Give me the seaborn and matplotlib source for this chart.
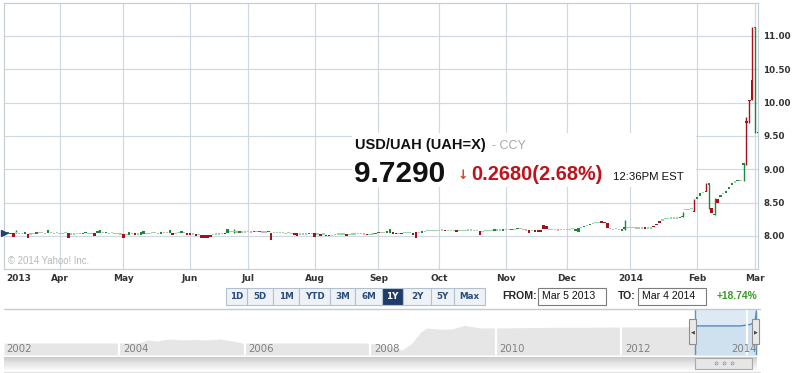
import numpy as np
import pandas as pd
import matplotlib
matplotlib.use('Agg')
import matplotlib.pyplot as plt
import seaborn as sns
from matplotlib.patches import Rectangle
from matplotlib.lines import Line2D

# ---------------- data ----------------
open_mar13  = [8.04, 8.03, 8.03, 8.04, 8.05, 8.04, 8.04, 8.03, 8.03, 8.03, 8.04, 8.03, 8.05, 8.05, 8.04, 8.04, 8.05, 8.04, 8.05]
close_mar13 = [8.04, 8.06, 8.05, 7.98, 8.05, 8.04, 8.04, 8.06, 7.97, 8.03, 8.04, 8.06, 8.05, 8.05, 8.04, 8.09, 8.05, 8.04, 8.05]
open_apr13  = [8.04, 8.04, 8.05, 8.04, 8.03, 8.03, 8.04, 8.04, 8.03, 8.04, 8.04, 8.04, 8.04, 8.04, 8.05, 8.05, 8.04, 8.04, 8.05, 8.04, 8.04, 8.03]
close_apr13 = [8.04, 8.04, 8.05, 7.97, 8.03, 8.03, 8.04, 8.04, 8.05, 8.05, 8.04, 8.04, 8.00, 8.08, 8.09, 8.05, 8.06, 8.04, 8.05, 8.04, 8.04, 8.03]
open_may13  = [8.03, 8.02, 8.01, 8.04, 8.04, 8.03, 8.02, 8.03, 8.04, 8.04, 8.05, 8.05, 8.04, 8.03, 8.05, 8.05, 8.04, 8.05, 8.04, 8.05, 8.04, 8.05, 8.04]
close_may13 = [7.97, 8.02, 8.06, 8.04, 8.01, 8.03, 8.06, 8.08, 8.04, 8.04, 8.05, 8.05, 8.04, 8.06, 8.05, 8.05, 8.09, 8.01, 8.04, 8.05, 8.08, 8.05, 8.01]
open_jun13  = [8.04, 8.03, 8.03, 8.02, 8.01, 8.01, 8.01, 8.01, 8.02, 8.03, 8.03, 8.04, 8.05, 8.05, 8.07, 8.07, 8.06, 8.05, 8.06, 8.06]
close_jun13 = [8.01, 8.03, 8.00, 8.02, 7.97, 7.97, 7.97, 7.98, 8.02, 8.03, 8.03, 8.04, 8.04, 8.10, 8.07, 8.07, 8.06, 8.07, 8.06, 8.06]
open_jul13  = [8.07, 8.06, 8.06, 8.07, 8.06, 8.06, 8.06, 8.06, 8.05, 8.05, 8.05, 8.05, 8.05, 8.04, 8.05, 8.04, 8.04, 8.04, 8.03, 8.03, 8.03, 8.03, 8.04]
close_jul13 = [8.07, 8.06, 8.08, 8.07, 8.08, 8.06, 8.06, 8.08, 7.94, 8.05, 8.05, 8.05, 8.05, 8.04, 8.05, 8.04, 8.01, 8.00, 8.03, 8.03, 8.03, 8.04, 8.04]
open_aug13  = [8.04, 8.03, 8.03, 8.03, 8.02, 8.02, 8.01, 8.02, 8.03, 8.03, 8.03, 8.03, 8.02, 8.03, 8.03, 8.04, 8.04, 8.03, 8.03, 8.02, 8.03, 8.03]
close_aug13 = [7.99, 8.03, 8.00, 8.03, 8.00, 8.00, 8.01, 8.02, 8.03, 8.03, 8.03, 8.00, 8.02, 8.03, 8.03, 8.04, 8.04, 8.03, 8.01, 8.02, 8.03, 8.05]
open_sep13  = [8.04, 8.05, 8.05, 8.05, 8.05, 8.06, 8.05, 8.04, 8.05, 8.05, 8.05, 8.05, 8.05, 8.06, 8.05, 8.05, 8.07, 8.08, 8.08, 8.08, 8.08]
close_sep13 = [8.06, 8.05, 8.05, 8.07, 8.10, 8.03, 8.03, 8.04, 8.03, 8.05, 8.05, 8.05, 8.02, 7.97, 8.05, 8.08, 8.07, 8.08, 8.08, 8.08, 8.08]
open_oct13  = [8.08, 8.09, 8.09, 8.08, 8.08, 8.08, 8.09, 8.08, 8.08, 8.08, 8.09, 8.09, 8.08, 8.08, 8.07, 8.07, 8.08, 8.08, 8.08, 8.08, 8.09, 8.09, 8.08]
close_oct13 = [8.08, 8.09, 8.07, 8.08, 8.08, 8.08, 8.06, 8.08, 8.08, 8.08, 8.09, 8.09, 8.08, 8.08, 8.02, 8.07, 8.08, 8.08, 8.08, 8.09, 8.09, 8.09, 8.10]
open_nov13  = [8.10, 8.10, 8.09, 8.10, 8.10, 8.11, 8.10, 8.09, 8.09, 8.08, 8.09, 8.09, 8.09, 8.16, 8.15, 8.10, 8.10, 8.10, 8.09, 8.10, 8.10]
close_nov13 = [8.10, 8.10, 8.11, 8.10, 8.12, 8.11, 8.10, 8.09, 8.05, 8.08, 8.06, 8.06, 8.06, 8.11, 8.11, 8.10, 8.10, 8.10, 8.09, 8.10, 8.10]
open_dec13  = [8.10, 8.10, 8.11, 8.07, 8.06, 8.13, 8.13, 8.16, 8.16, 8.19, 8.20, 8.20, 8.22, 8.21, 8.19, 8.11, 8.10, 8.11, 8.10, 8.07, 8.11, 8.13]
close_dec13 = [8.10, 8.10, 8.11, 8.10, 8.12, 8.13, 8.15, 8.16, 8.18, 8.19, 8.20, 8.20, 8.20, 8.19, 8.12, 8.11, 8.10, 8.11, 8.10, 8.10, 8.13, 8.13]
open_jan14  = [8.13, 8.13, 8.12, 8.12, 8.12, 8.13, 8.12, 8.12, 8.15, 8.18, 8.22, 8.24, 8.26, 8.26, 8.27, 8.27, 8.27, 8.27, 8.28, 8.40, 8.40, 8.41, 8.38]
close_jan14 = [8.13, 8.13, 8.12, 8.12, 8.12, 8.11, 8.12, 8.12, 8.13, 8.16, 8.20, 8.24, 8.26, 8.26, 8.27, 8.27, 8.27, 8.28, 8.29, 8.40, 8.40, 8.41, 8.37]
open_feb14  = [8.55, 8.60, 8.65, 8.68, 8.77, 8.42, 8.31, 8.55, 8.58, 8.64, 8.65, 8.70, 8.76, 8.81, 8.82, 8.83, 9.07, 9.72, 10.04, 10.33]
close_feb14 = [8.58, 8.64, 8.65, 8.67, 8.78, 8.35, 8.33, 8.50, 8.61, 8.64, 8.67, 8.73, 8.79, 8.81, 8.84, 8.83, 9.08, 9.70, 10.02, 10.04]
open_mar14  = [11.11, 9.56]
close_mar14 = [11.13, 9.54]

# days (trading-day number) that show a visible high/low wick
wick_day  = [4,    79,   214,  234,  238,  242,  243,  245,  255,  256,  257,   258,   259]
wick_high = [8.09, 8.10, 8.24, 8.36, 8.55, 8.79, 8.78, 8.57, 9.08, 9.78, 10.04, 11.13, 11.13]
wick_low  = [8.05, 8.05, 8.09, 8.28, 8.37, 8.67, 8.40, 8.31, 8.82, 9.06, 9.69,  10.04, 9.54]

prev_close = 8.045
y_ticks = [8.00, 8.50, 9.00, 9.50, 10.00, 10.50, 11.00]

# long history for the navigator (decimal year, level)
nav_year = [2002.16, 2004.30, 2004.45, 2004.60, 2004.80, 2005.00, 2005.20, 2005.40, 2005.60, 2005.80,
            2005.95, 2007.90, 2008.10, 2008.35, 2008.50, 2008.65, 2008.80, 2008.90, 2009.10, 2009.30,
            2009.50, 2009.75, 2010.00, 2010.50, 2011.00, 2011.50, 2012.00, 2012.50, 2013.00, 2013.17,
            2013.50, 2013.90, 2014.05, 2014.10, 2014.13, 2014.15, 2014.165]
nav_val  = [5.63, 5.63, 6.08, 5.93, 6.22, 6.08, 6.15, 6.08, 6.22, 5.93,
            5.63, 5.63, 5.49, 5.04, 4.60, 5.50, 7.26, 7.85, 7.66, 7.70,
            8.25, 7.85, 7.85, 7.90, 7.95, 7.95, 8.00, 8.00, 8.00, 8.15,
            8.15, 8.15, 8.35, 8.60, 9.00, 10.20, 10.50]
nav_sel_start = 2013.17
nav_years_marked = [2002, 2004, 2006, 2008, 2010, 2012, 2014]

range_buttons = ['1D', '5D', '1M', 'YTD', '3M', '6M', '1Y', '2Y', '5Y', 'Max']
selected_range = '1Y'
from_date, to_date = 'Mar 5 2013', 'Mar 4 2014'
period_change = '+18.74%'
title = 'USD/UAH (UAH=X)'
price_txt, change_txt, time_txt = '9.7290', '0.2680(2.68%)', '12:36PM EST'

# ---------------- figure ----------------
sns.set_style('white')
plt.rcParams['font.family'] = ['DejaVu Sans']

W, H = 799, 373
fig = plt.figure(figsize=(W / 100, H / 100), dpi=100)
fig.patch.set_facecolor('white')


def fb(x0, y0, x1, y1):
    return [x0 / W, 1 - y1 / H, (x1 - x0) / W, (y1 - y0) / H]


def fx(x):
    return x / W


def fy(y):
    return 1 - y / H


ARIAL = ['Liberation Sans', 'DejaVu Sans']
GRID = '#cfd8e1'

# ---------------- main candlestick chart ----------------
dates = pd.bdate_range('2013-03-05', '2014-03-04')
opens = np.array(open_mar13 + open_apr13 + open_may13 + open_jun13 + open_jul13 + open_aug13 + open_sep13
                 + open_oct13 + open_nov13 + open_dec13 + open_jan14 + open_feb14 + open_mar14)
closes = np.array(close_mar13 + close_apr13 + close_may13 + close_jun13 + close_jul13 + close_aug13 + close_sep13
                  + close_oct13 + close_nov13 + close_dec13 + close_jan14 + close_feb14 + close_mar14)
assert len(dates) == len(opens) == len(closes)
df = pd.DataFrame({'date': dates, 'open': opens, 'close': closes})
df['i'] = np.arange(len(df))

ax = fig.add_axes(fb(4, 3.3, 758, 269.3))
ax.set_xlim(-0.2, 260.0)
ax.set_ylim(7.5, 11.487)
ax.set_facecolor('white')

UP, DN = '#18893a', '#a3111c'
UP_L, DN_L = '#9dd3ab', '#e6a7ad'
prev = np.r_[prev_close, closes[:-1]]
col = np.where(closes > opens, UP, np.where(closes < opens, DN, np.where(closes >= prev, UP_L, DN_L)))
body_lo = np.minimum(opens, closes)
body_h = np.abs(closes - opens)
doji = body_h < 0.015
body_lo = np.where(doji, closes - 0.01, body_lo)
body_h = np.where(doji, 0.02, body_h)

wcol = [UP if closes[d] >= opens[d] else DN for d in wick_day]
ax.vlines(wick_day, wick_low, wick_high, colors=wcol, lw=1.0, zorder=2.9)
ax.bar(df['i'], body_h, bottom=body_lo, width=0.85, color=col, linewidth=0, zorder=3)

ax.plot([ax.get_xlim()[0]], [prev_close], marker='>', ms=4.5, color='#24406e', clip_on=False, zorder=4)

# axes, ticks, grid
ms = df.groupby([df['date'].dt.year, df['date'].dt.month])['i'].min()
tick_idx, tick_lab = [], []
for (yy, mm), i in ms.items():
    if i == 0:
        continue
    tick_idx.append(i)
    tick_lab.append(str(yy) if mm == 1 else pd.Timestamp(yy, mm, 1).strftime('%b'))
ax.set_xticks(tick_idx, tick_lab)
ax.yaxis.tick_right()
ax.set_yticks(y_ticks, [f'{v:.2f}' for v in y_ticks])
ax.tick_params(axis='x', length=0, pad=3.4, labelsize=6.5, labelcolor='#333333')
ax.tick_params(axis='y', length=0, pad=3.6, labelsize=6.3, labelcolor='#333333')
for lab in ax.get_xticklabels() + ax.get_yticklabels():
    lab.set_fontweight('bold')
ax.grid(True, color=GRID, lw=0.85)
ax.set_axisbelow(True)
for s in ax.spines.values():
    s.set_color('#c4ced8')
    s.set_linewidth(0.85)

fig.text(fx(18.5), fy(278.5), str(dates[0].year), ha='center', va='center', fontsize=6.5,
         fontweight='bold', color='#333333')
fig.text(fx(8), fy(264), '\u00a9 2014 Yahoo! Inc.', fontsize=6.9, color='#b8b8b8', family=ARIAL,
         va='baseline')

# ---------------- quote box ----------------
fig.add_artist(Rectangle((fx(352), fy(187)), fx(696) - fx(352), fy(133) - fy(187), transform=fig.transFigure,
                         facecolor='white', edgecolor='none', zorder=1))
fig.text(fx(355), fy(149.5), title, fontsize=10.5, fontweight='bold', family=ARIAL, va='baseline', color='#111111')
fig.text(fx(492), fy(149.5), '- CCY', fontsize=9, family=ARIAL, va='baseline', color='#a8a8a8')
fig.text(fx(354), fy(181.5), price_txt, fontsize=21.5, fontweight='bold', family=ARIAL, va='baseline',
         color='#111111')
fig.text(fx(462.5), fy(175.5), '\u2193', fontsize=9, fontweight='bold', ha='center', va='center',
         color='#cc4a1d')
fig.text(fx(471.5), fy(180.5), change_txt, fontsize=14.3, fontweight='bold', family=ARIAL, va='baseline',
         color='#c0121b')
fig.text(fx(613), fy(180.5), time_txt, fontsize=8.2, family=ARIAL, va='baseline', color='#111111')

# ---------------- range buttons / dates ----------------
btn_edges = [226, 247, 273, 299, 330, 355, 382, 403, 431, 454, 485]
for k, lab in enumerate(range_buttons):
    x0, x1 = btn_edges[k], btn_edges[k + 1]
    sel = lab == selected_range
    fig.add_artist(Rectangle((fx(x0), fy(304.5)), fx(x1) - fx(x0), fy(288) - fy(304.5),
                             transform=fig.transFigure, facecolor='#1d3c69' if sel else '#eef2f6',
                             edgecolor='#b3c1cf', lw=0.8, zorder=1))
    fig.text(fx((x0 + x1) / 2), fy(296.3), lab, ha='center', va='center', fontsize=6.3, fontweight='bold',
             color='white' if sel else '#2b4d7e')

fig.text(fx(502), fy(296.3), 'FROM:', fontsize=7.6, fontweight='bold', family=ARIAL, va='center')
fig.text(fx(618), fy(296.3), 'TO:', fontsize=7.6, fontweight='bold', family=ARIAL, va='center')
for (x0, x1), txt in zip([(538, 606), (638, 706)], [from_date, to_date]):
    fig.add_artist(Rectangle((fx(x0), fy(304.5)), fx(x1) - fx(x0), fy(287.5) - fy(304.5),
                             transform=fig.transFigure, facecolor='white', edgecolor='#7d7d7d', lw=0.8,
                             zorder=1))
    fig.text(fx(x0 + 3.5), fy(296.3), txt, fontsize=7.6, family=ARIAL, va='center', color='#111111')
fig.text(fx(717), fy(296.3), period_change, fontsize=7.4, fontweight='bold', family=ARIAL, va='center',
         color='#3a9a2a')

fig.add_artist(Line2D([fx(4), fx(760)], [fy(309.3), fy(309.3)], transform=fig.transFigure,
                      color='#c9c9c9', lw=1.0))

# ---------------- navigator ----------------
axn = fig.add_axes(fb(4, 310, 757, 355))
axn.set_xlim(2002.16, 2014.16)
axn.set_ylim(3.86, 10.5)
axn.fill_between(nav_year, nav_val, 3.86, color='#e6e6e6', lw=0, zorder=1)
axn.axvspan(nav_sel_start, 2014.16, color='#dde9f4', lw=0, zorder=2)
sel_x = [x for x in nav_year if x >= nav_sel_start]
sel_y = [v for x, v in zip(nav_year, nav_val) if x >= nav_sel_start]
axn.fill_between(sel_x, sel_y, 3.86, color='#cfe0ef', lw=0, zorder=2.1)
sns.lineplot(x=sel_x, y=sel_y, ax=axn, color='#4f8cc4', lw=1.0, zorder=3)
for yr in nav_years_marked[1:]:
    axn.axvline(yr, color='white', lw=1.6, zorder=3.5)
for yr in nav_years_marked:
    if yr == nav_years_marked[0]:
        axn.annotate(str(yr), xy=(0, 0), xycoords='axes fraction', xytext=(1.6, 2.3),
                     textcoords='offset points', fontsize=7.3, color='#808080', va='baseline', zorder=4)
    elif yr == nav_years_marked[-1]:
        axn.annotate(str(yr), xy=(1, 0), xycoords='axes fraction', xytext=(0, 2.3),
                     textcoords='offset points', fontsize=7.3, color='#808080', va='baseline', ha='right',
                     zorder=4)
    else:
        axn.annotate(str(yr), xy=(yr, 0), xycoords=('data', 'axes fraction'), xytext=(2.6, 2.3),
                     textcoords='offset points', fontsize=7.3, color='#808080', va='baseline', zorder=4)
axn.axvline(nav_sel_start, color='#5b93c6', lw=1.0, zorder=5)
axn.axvline(2014.15, color='#5b93c6', lw=1.0, zorder=5)
axn.set_xticks([])
axn.set_yticks([])
for s in axn.spines.values():
    s.set_visible(False)
axn.set_facecolor('white')

# handles
for x0, glyph in [(689, '\u25c0'), (752, '\u25b6')]:
    fig.add_artist(Rectangle((fx(x0), fy(344)), fx(7) , fy(319) - fy(344), transform=fig.transFigure,
                             facecolor='#e9e9e9', edgecolor='#8e8e8e', lw=0.8, zorder=6))
    fig.text(fx(x0 + 3.5), fy(331.5), glyph, fontsize=3.6, ha='center', va='center', color='#444444',
             zorder=7)

# scrollbar
axs = fig.add_axes(fb(4, 357, 757, 370))
grad = np.linspace(0, 1, 30).reshape(-1, 1)
cmap = matplotlib.colors.LinearSegmentedColormap.from_list('g', ['#c6c6c6', '#e4e4e4', '#f9f9f9'])
axs.imshow(grad, aspect='auto', cmap=cmap, extent=(0, 1, 0, 1))
axs.set_axis_off()
fig.add_artist(Rectangle((fx(695), fy(369)), fx(752) - fx(695), fy(357.5) - fy(369), transform=fig.transFigure,
                         facecolor='#e6e6e6', edgecolor='#a9a9a9', lw=0.8, zorder=6))
fig.add_artist(Line2D([fx(715.5), fx(723.5), fx(731.5)], [fy(363.3)] * 3, transform=fig.transFigure,
                      ls='none', marker='o', ms=2.2, mfc='#d4d4d4', mec='#9a9a9a', mew=0.5, zorder=7))
fig.add_artist(Line2D([fx(4), fx(760)], [fy(372), fy(372)], transform=fig.transFigure,
                      color='#e2e2e2', lw=1.0))

fig.savefig('out.png', dpi=100, facecolor='white')
